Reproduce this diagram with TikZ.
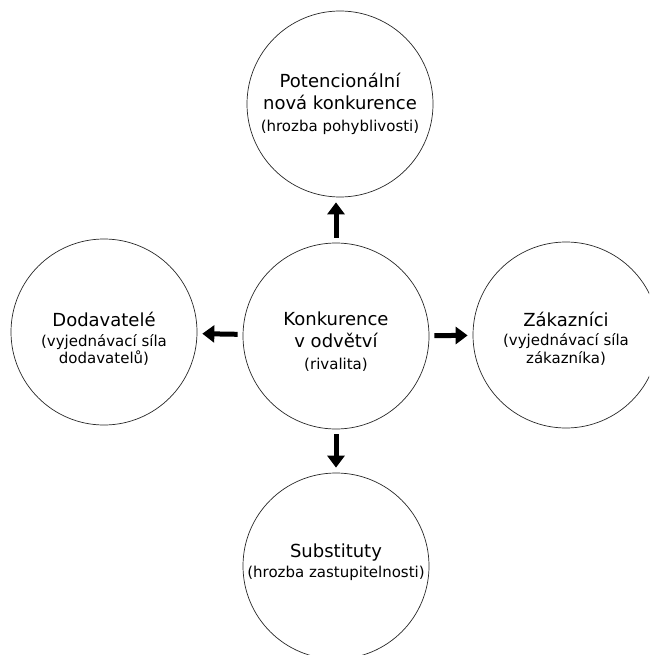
\documentclass[tikz,border=0pt]{standalone}
\usepackage{fontspec}
\setmainfont{DejaVu Sans}
\usetikzlibrary{arrows.meta}
\tikzset{>=latex}

\tikzset{
  kruh/.style={draw=black!85, circle, line width=0.7pt, minimum size=186pt, inner sep=0pt},
  popis/.style={align=center, inner sep=0pt, font=\fontsize{18}{22}\selectfont},
  sipka/.style={-{Triangle[length=12pt,width=17pt]}, line width=5pt, shorten >=5pt, shorten <=5pt}
}
\newcommand{\pozn}[1]{{\fontsize{15}{18}\selectfont #1}}

\begin{document}
\begin{tikzpicture}[x=1pt,y=-1pt]
  % page frame (the right and bottom circles are cut by it)
  \clip (0,0) rectangle (649,655);

  % the five forces
  \node[kruh] (stred)  at (336,336) {};
  \node[kruh] (horni)  at (340,104) {};
  \node[kruh] (levy)   at (104,332) {};
  \node[kruh] (pravy)  at (566,335) {};
  \node[kruh] (dolni)  at (336,566) {};

  % texts, a little below the centres
  \node[popis] (stred-t) at ([yshift=-6pt]stred.center) {Konkurence\\ v odvětví\\ \pozn{(rivalita)}};
  \node[popis] (horni-t) at (horni.center) {Potencionální\\ nová konkurence\\ \pozn{(hrozba pohyblivosti)}};
  \node[popis] (levy-t)  at ([yshift=-7pt]levy.center) {Dodavatelé\\[-2pt] \pozn{(vyjednávací síla}\\[-5pt] \pozn{dodavatelů)}};
  \node[popis] (pravy-t) at ([yshift=-4pt]pravy.center) {Zákazníci\\[-3pt] \pozn{(vyjednávací síla}\\[-4pt] \pozn{zákazníka)}};
  \node[popis] (dolni-t) at ([yshift=4pt]dolni.center) {Substituty\\[-2pt] \pozn{(hrozba zastupitelnosti)}};

  % arrows from the centre
  \draw[sipka] (stred.north) -- (stred.north |- horni.south);
  \draw[sipka] (stred) -- (levy);
  \draw[sipka] (stred) -- (pravy);
  \draw[sipka] (stred) -- (dolni);
\end{tikzpicture}
\end{document}
